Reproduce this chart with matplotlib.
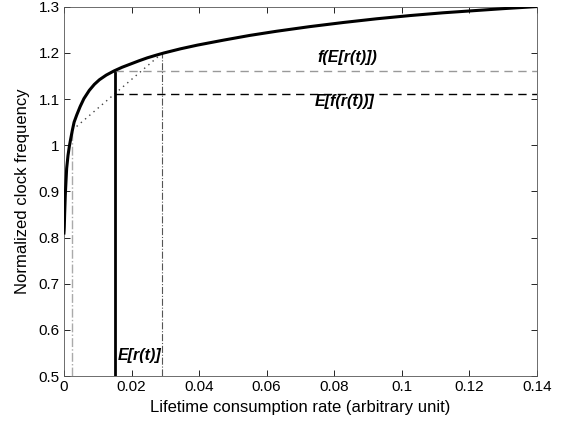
import matplotlib.pyplot as plt

plt.rcParams['font.family'] = ['Liberation Sans', 'DejaVu Sans']

# frequency curve f(r)
r_curve = [0.0, 0.00005, 0.0001, 0.0002, 0.0004, 0.0008, 0.0012, 0.0016, 0.0020,
           0.0025, 0.0030, 0.0038, 0.0048, 0.0059, 0.0075, 0.0090, 0.0105, 0.0125,
           0.0148, 0.0172, 0.0197, 0.0222, 0.0247, 0.0272, 0.0296, 0.0345,
           0.0395, 0.0474, 0.0550, 0.0629, 0.0727, 0.0827, 0.0925, 0.1024,
           0.1122, 0.1221, 0.1300, 0.1400]
f_curve = [0.81, 0.815, 0.823, 0.850, 0.893, 0.950, 0.978, 0.998, 1.014,
           1.033, 1.050, 1.066, 1.084, 1.101, 1.119, 1.132, 1.142, 1.152,
           1.161, 1.169, 1.176, 1.183, 1.1895, 1.195, 1.200, 1.209,
           1.217, 1.228, 1.238, 1.247, 1.257, 1.266, 1.274, 1.281,
           1.287, 1.292, 1.296, 1.3005]

r_low, f_low = 0.0025, 1.033
r_high, f_high = 0.029, 1.199
r_mean = 0.0152
f_of_mean = 1.161
mean_of_f = 1.111

plt.figure(figsize=(5.61, 4.25), dpi=100)
ax = plt.axes([0.114, 0.115, 0.843, 0.869])

ax.plot(r_curve, f_curve, color='black', lw=2.2, zorder=5, solid_joinstyle='round')
ax.plot([r_low, r_high], [f_low, f_high], color='#444444', lw=1, linestyle=(0, (1, 3)))
ax.plot([r_low, r_low], [0.5, f_low], color='#aaaaaa', lw=1, linestyle='-.')
ax.plot([r_high, r_high], [0.5, f_high], color='#555555', lw=0.8, linestyle='-.')
ax.plot([r_mean, r_mean], [0.5, f_of_mean], color='black', lw=2)
ax.plot([r_mean, 0.14], [f_of_mean, f_of_mean], color='#999999', lw=1, linestyle=(0, (6, 4)))
ax.plot([r_mean, 0.14], [mean_of_f, mean_of_f], color='black', lw=1, linestyle=(0, (6, 4)))

ax.text(0.084, 1.19, 'f(E[r(t)])', fontsize=11.5, fontweight='bold', fontstyle='italic',
        ha='center', va='center')
ax.text(0.083, 1.094, 'E[f(r(t))]', fontsize=11.5, fontweight='bold', fontstyle='italic',
        ha='center', va='center')
ax.text(0.0158, 0.545, 'E[r(t)]', fontsize=11.5, fontweight='bold', fontstyle='italic',
        ha='left', va='center')

ax.set_xlim(0, 0.14)
ax.set_ylim(0.5, 1.3)
ax.set_xticks([0, 0.02, 0.04, 0.06, 0.08, 0.1, 0.12, 0.14])
ax.set_xticklabels(['0', '0.02', '0.04', '0.06', '0.08', '0.1', '0.12', '0.14'])
ax.set_yticks([0.5, 0.6, 0.7, 0.8, 0.9, 1.0, 1.1, 1.2, 1.3])
ax.set_yticklabels(['0.5', '0.6', '0.7', '0.8', '0.9', '1', '1.1', '1.2', '1.3'])
ax.tick_params(direction='in', top=True, right=True, labelsize=11, length=4, width=0.6, pad=3)
for s in ax.spines.values():
    s.set_linewidth(0.6)
    s.set_color('#555555')

ax.set_xlabel('Lifetime consumption rate (arbitrary unit)', fontsize=12, labelpad=4)
ax.set_ylabel('Normalized clock frequency', fontsize=12, labelpad=6)

plt.savefig('out.png', dpi=100)
